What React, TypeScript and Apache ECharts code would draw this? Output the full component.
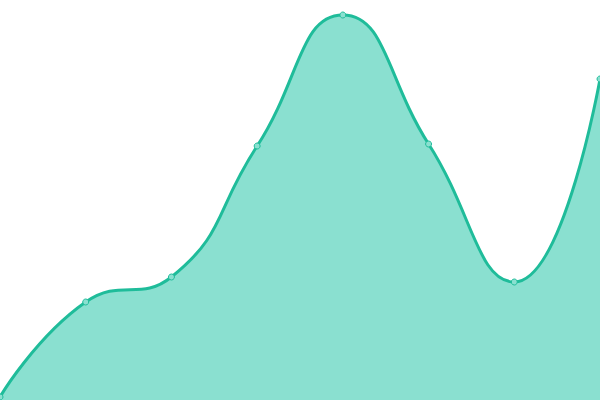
import React, { useEffect, useRef } from 'react';
import * as echarts from 'echarts';

const categories = ['1', '2', '3', '4', '5', '6', '7', '8'];
const values = [3, 98, 123, 254, 385, 256, 118, 321];

export default function App() {
  const ref = useRef<HTMLDivElement>(null);
  useEffect(() => {
    if (!ref.current) return;
    const chart = echarts.init(ref.current, undefined, { renderer: 'svg' });
    chart.setOption({
      animation: false,
      grid: { left: 0, right: 0, top: 0, bottom: 0 },
      xAxis: { type: 'category', data: categories, boundaryGap: false, show: false },
      yAxis: { type: 'value', min: 0, max: 400, show: false },
      series: [{
        type: 'line',
        data: values,
        smooth: true,
        symbol: 'circle',
        symbolSize: 6,
        lineStyle: { color: '#1fbc9a', width: 3 },
        itemStyle: { color: '#8ae0d0', borderColor: '#1fbc9a', borderWidth: 1 },
        areaStyle: { color: '#8ae0d0', opacity: 1 }
      }]
    });
    return () => chart.dispose();
  }, []);
  return <div ref={ref} style={{ position: 'fixed', left: 0, top: 0, width: '600px', height: '400px' }} />;
}
